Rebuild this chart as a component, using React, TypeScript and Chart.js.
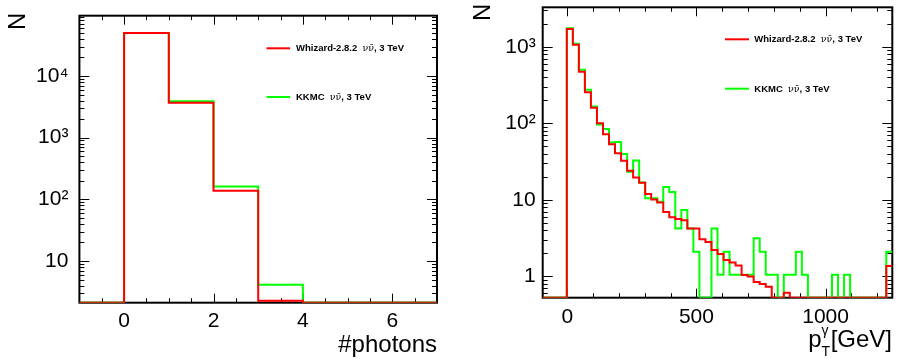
import React, { useEffect, useRef } from "react";
import { Chart, registerables } from "chart.js";

Chart.register(...registerables);

// ---------- data: left panel (#photons) ----------
const photonEdges = [-1, 0, 1, 2, 3, 4, 5, 6, 7];
const whizardPhotons = [0, 50000, 3690, 138, 2.27, 0, 0, 0];
const kkmcPhotons = [0, 50000, 3890, 161, 4.13, 0, 0, 0];
const photonXTicks = [0, 2, 4, 6];
const photonYTicks = [10, 100, 1000, 10000];

// ---------- data: right panel (pT of photon) ----------
const ptStart = -95;
const ptBinWidth = 23.33;
const whizardPt = [
  0, 0, 0, 0, 1700, 1060, 470, 255, 160, 100,
  72, 53, 40.5, 32.4, 24, 19.5, 16.7, 11.9, 10.1, 9.2,
  6.9, 5.9, 5.6, 5.4, 4.2, 4.2, 3.05, 2.81, 2.21, 1.96,
  1.63, 1.51, 1.38, 1.04, 0.99, 0.84, 0.79, 0.73, 0, 0,
  0.61, 0, 0, 0, 0, 0, 0, 0, 0, 0,
  0, 0, 0, 0, 0, 0, 0, 1.36,
];
const kkmcPt = [
  0, 0, 0, 0, 1750, 1090, 500, 275, 165, 96,
  84, 56, 57, 39.7, 23.3, 32.5, 16.8, 10.5, 10.5, 9.45,
  14.7, 12.6, 4.2, 7.35, 4.2, 2.1, 0, 0, 4.2, 1.05,
  2.1, 1.05, 1.05, 1.05, 1.05, 3.15, 2.1, 1.05, 1.05, 0,
  1.05, 1.05, 2.1, 1.05, 0, 0, 0, 0, 1.05, 0,
  1.05, 0, 0, 0, 0, 0, 0, 2.1,
];
const ptXTicks = [0, 500, 1000];
const ptYTicks = [1, 10, 100, 1000];

// ---------- labels ----------
const whizardLabel = ["Whizard-2.8.2  ", "\u03BD\u03BD\u0304", ", 3 TeV"];
const kkmcLabel = ["KKMC  ", "\u03BD\u03BD\u0304", ", 3 TeV"];
const yTitle = "N";
const photonXTitle = "#photons";
const ptXTitle = { main: "p", sup: "\u03B3", sub: "T", unit: "[GeV]" };

const FONT = "'Liberation Sans', Arial, Helvetica, sans-serif";
const RED = "#ff0000";
const GREEN = "#00ff00";

const SUP: Record<string, string> = { "2": "\u00B2", "3": "\u00B3", "4": "\u2074" };
function fmtLog(v: number): string {
  if (v === 1) return "1";
  if (v === 10) return "10";
  const e = Math.round(Math.log10(v));
  return "10" + (SUP[String(e)] || "");
}

function histPoints(edges: number[], vals: number[], yMin: number) {
  // point at each bin's left edge carries that bin's value; last point closes the final bin
  const pts = vals.map((v, i) => ({ x: edges[i], y: Math.max(v, yMin) }));
  pts.push({ x: edges[edges.length - 1], y: Math.max(vals[vals.length - 1], yMin) });
  return pts;
}

const framePlugin = {
  id: "rootFrame",
  beforeDatasetsDraw(chart: any, _args: any, opts: any) {
    const { ctx, chartArea: a, scales } = chart;
    const xs = scales.x;
    const ys = scales.y;
    ctx.save();
    ctx.strokeStyle = "#000";
    ctx.lineWidth = 1;
    const line = (x1: number, y1: number, x2: number, y2: number) => {
      ctx.beginPath();
      ctx.moveTo(x1, y1);
      ctx.lineTo(x2, y2);
      ctx.stroke();
    };
    for (const t of opts.xMinor) {
      const px = Math.round(xs.getPixelForValue(t)) + 0.5;
      line(px, a.bottom, px, a.bottom - opts.xMinorLen);
      line(px, a.top, px, a.top + opts.xMinorLen);
    }
    for (const t of opts.xMajor) {
      const px = Math.round(xs.getPixelForValue(t)) + 0.5;
      line(px, a.bottom, px, a.bottom - opts.xMajorLen);
      line(px, a.top, px, a.top + opts.xMajorLen);
    }
    const lo = Math.floor(Math.log10(ys.min));
    const hi = Math.ceil(Math.log10(ys.max));
    for (let d = lo; d <= hi; d++) {
      for (let m = 1; m <= 9; m++) {
        const v = m * Math.pow(10, d);
        if (v < ys.min || v > ys.max) continue;
        const len = m === 1 ? opts.yMajorLen : opts.yMinorLen;
        const py = Math.round(ys.getPixelForValue(v)) + 0.5;
        line(a.left, py, a.left + len, py);
        line(a.right, py, a.right - len, py);
      }
    }
    ctx.lineWidth = 2;
    ctx.strokeRect(a.left, a.top, a.right - a.left, a.bottom - a.top);
    ctx.restore();
  },
};

const textPlugin = {
  id: "rootText",
  afterDraw(chart: any, _args: any, opts: any) {
    const { ctx } = chart;
    ctx.save();
    ctx.fillStyle = "#000";
    // legend
    for (const e of opts.legend) {
      ctx.strokeStyle = e.color;
      ctx.lineWidth = 2;
      ctx.beginPath();
      ctx.moveTo(opts.legendLineX0, e.y);
      ctx.lineTo(opts.legendLineX1, e.y);
      ctx.stroke();
      let x = opts.legendTextX;
      ctx.textBaseline = "middle";
      ctx.textAlign = "left";
      e.label.forEach((part: string, i: number) => {
        ctx.font = (i === 1 ? "" : "bold ") + opts.legendSize + "px " + (i === 1 ? "'DejaVu Serif', serif" : FONT);
        ctx.fillText(part, x, e.y + 0.5);
        x += ctx.measureText(part).width;
      });
    }
    // y title (rotated)
    ctx.save();
    ctx.translate(opts.yTitleX, opts.yTitleY);
    ctx.rotate(-Math.PI / 2);
    ctx.font = opts.yTitleSize + "px " + FONT;
    ctx.textAlign = "left";
    ctx.textBaseline = "alphabetic";
    ctx.fillText(yTitle, 0, 0);
    ctx.restore();
    // x title
    ctx.textBaseline = "alphabetic";
    if (opts.xTitle.kind === "plain") {
      ctx.font = opts.xTitleSize + "px " + FONT;
      ctx.textAlign = "right";
      ctx.fillText(opts.xTitle.text, opts.xTitleX, opts.xTitleY);
    } else {
      const t = opts.xTitle.text;
      ctx.textAlign = "left";
      ctx.font = opts.xTitleSize + "px " + FONT;
      const unitW = ctx.measureText(t.unit).width;
      const unitX = opts.xTitleX - unitW;
      ctx.fillText(t.unit, unitX, opts.xTitleY);
      ctx.font = opts.scriptSize + "px " + FONT;
      const sW = Math.max(ctx.measureText(t.sup).width, ctx.measureText(t.sub).width);
      const sX = unitX - sW - 0.5;
      ctx.fillText(t.sup, sX, opts.xTitleY - 12);
      ctx.fillText(t.sub, sX, opts.xTitleY + 9);
      ctx.font = opts.xTitleSize + "px " + FONT;
      const pW = ctx.measureText(t.main).width;
      ctx.fillText(t.main, sX - pW, opts.xTitleY);
    }
    ctx.restore();
  },
};

function makeConfig(p: any): any {
  return {
    type: "line",
    data: {
      datasets: [
        {
          label: "Whizard",
          data: histPoints(p.edges, p.whizard, p.yMin),
          borderColor: RED,
          borderWidth: 2,
          pointRadius: 0,
          stepped: "before",
          fill: false,
          order: 1,
        },
        {
          label: "KKMC",
          data: histPoints(p.edges, p.kkmc, p.yMin),
          borderColor: GREEN,
          borderWidth: 2,
          pointRadius: 0,
          stepped: "before",
          fill: false,
          order: 2,
        },
      ],
    },
    options: {
      responsive: false,
      animation: false,
      devicePixelRatio: 1,
      layout: { padding: { left: 0, top: p.area.top, right: 450 - p.area.right, bottom: 0 } },
      plugins: {
        legend: { display: false },
        tooltip: { enabled: false },
        rootFrame: p.frame,
        rootText: p.text,
      },
      scales: {
        x: {
          type: "linear",
          min: p.xMin,
          max: p.xMax,
          grid: { display: false, drawTicks: false },
          border: { display: false },
          afterFit: (s: any) => {
            s.height = 359 - p.area.bottom;
            s.paddingLeft = 0;
            s.paddingRight = 0;
          },
          afterBuildTicks: (s: any) => {
            s.ticks = p.xTicks.map((v: number) => ({ value: v }));
          },
          ticks: {
            autoSkip: false,
            maxRotation: 0,
            padding: p.xPad,
            color: "#000",
            font: { family: FONT, size: p.tickSize },
            callback: (v: number) => String(v),
          },
        },
        y: {
          type: "logarithmic",
          min: p.yMin,
          max: p.yMax,
          grid: { display: false, drawTicks: false },
          border: { display: false },
          afterFit: (s: any) => {
            s.width = p.area.left;
            s.paddingTop = 0;
            s.paddingBottom = 0;
          },
          afterBuildTicks: (s: any) => {
            s.ticks = p.yTicks.map((v: number) => ({ value: v }));
          },
          ticks: {
            autoSkip: false,
            padding: p.yPad,
            color: "#000",
            font: { family: FONT, size: p.tickSize },
            callback: (v: number) => fmtLog(v),
          },
        },
      },
    },
    plugins: [framePlugin, textPlugin],
  };
}

function range(a: number, b: number, step: number, skip: number[]) {
  const out: number[] = [];
  for (let v = a; v <= b + 1e-9; v += step) {
    const r = Math.round(v * 1000) / 1000;
    if (!skip.includes(r)) out.push(r);
  }
  return out;
}

const ptEdges = whizardPt.map((_, i) => ptStart + ptBinWidth * i).concat([ptStart + ptBinWidth * whizardPt.length]);

const leftParams = {
  edges: photonEdges,
  whizard: whizardPhotons,
  kkmc: kkmcPhotons,
  xMin: -1,
  xMax: 7,
  yMin: 2.11,
  yMax: 95000,
  xTicks: photonXTicks,
  yTicks: photonYTicks,
  area: { left: 79.4, right: 437, top: 15.7, bottom: 302.7 },
  xPad: 6,
  yPad: 11,
  tickSize: 21,
  frame: { xMajor: photonXTicks, xMinor: range(-0.5, 6.5, 0.5, photonXTicks), xMajorLen: 9, xMinorLen: 4.5, yMajorLen: 10, yMinorLen: 5 },
  text: {
    legend: [
      { label: whizardLabel, color: RED, y: 48.3 },
      { label: kkmcLabel, color: GREEN, y: 97 },
    ],
    legendLineX0: 266.5,
    legendLineX1: 290,
    legendTextX: 296,
    legendSize: 9.5,
    yTitleX: 25,
    yTitleY: 30,
    yTitleSize: 24,
    xTitle: { kind: "plain", text: photonXTitle },
    xTitleX: 437,
    xTitleY: 352,
    xTitleSize: 24,
    scriptSize: 14,
  },
};

const rightParams = {
  edges: ptEdges,
  whizard: whizardPt,
  kkmc: kkmcPt,
  xMin: ptStart,
  xMax: ptStart + ptBinWidth * whizardPt.length,
  yMin: 0.525,
  yMax: 3275,
  xTicks: ptXTicks,
  yTicks: ptYTicks,
  area: { left: 92.7, right: 442.3, top: 7.3, bottom: 297.7 },
  xPad: 7,
  yPad: 7,
  tickSize: 21,
  frame: { xMajor: ptXTicks, xMinor: range(-0, 1200, 100, ptXTicks), xMajorLen: 9, xMinorLen: 4.5, yMajorLen: 10, yMinorLen: 5 },
  text: {
    legend: [
      { label: whizardLabel, color: RED, y: 39.3 },
      { label: kkmcLabel, color: GREEN, y: 88.7 },
    ],
    legendLineX0: 275,
    legendLineX1: 299,
    legendTextX: 304.3,
    legendSize: 9.5,
    yTitleX: 40,
    yTitleY: 21,
    yTitleSize: 24,
    xTitle: { kind: "pt", text: ptXTitle },
    xTitleX: 442,
    xTitleY: 346.7,
    xTitleSize: 24,
    scriptSize: 14,
  },
};

function Panel({ params }: { params: any }) {
  const ref = useRef<HTMLCanvasElement | null>(null);
  useEffect(() => {
    if (!ref.current) return;
    const chart = new Chart(ref.current, makeConfig(params));
    return () => chart.destroy();
  }, [params]);
  return <canvas ref={ref} width={450} height={359} style={{ display: "block", width: 450, height: 359 }} />;
}

export default function App() {
  return (
    <div style={{ position: "fixed", left: 0, top: 0, width: 900, height: 359, display: "flex", background: "#fff" }}>
      <Panel params={leftParams} />
      <Panel params={rightParams} />
    </div>
  );
}
